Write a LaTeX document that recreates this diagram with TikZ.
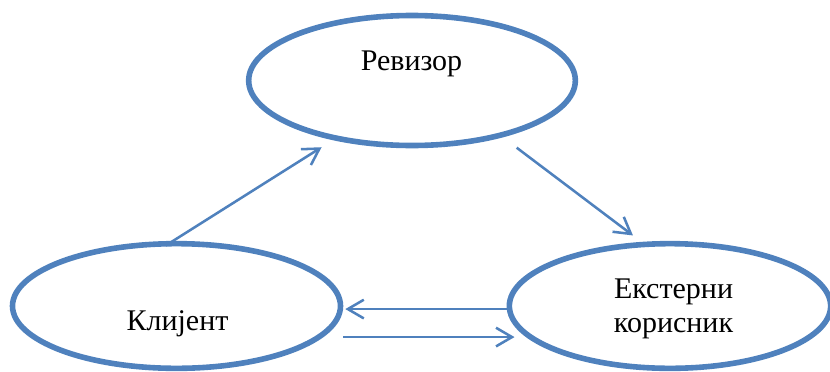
\documentclass[tikz,border=0pt]{standalone}
\usepackage{fontspec}
\setmainfont{Liberation Serif}
\usepackage{tikz}
\usetikzlibrary{arrows.meta}
\usetikzlibrary{shapes.geometric}
\definecolor{office}{HTML}{4F81BD}
\tikzset{oval/.style = {draw = office, ellipse, line width = 4.2pt, inner sep = 0}}
\tikzset{flow/.style = {draw = office, line width = 1.9pt, -{Straight Barb[length=12pt, width=14pt]}}}

\begin{document}
\begin{tikzpicture}[x=0.75pt, y=-0.75pt]
  \useasboundingbox (0, 0) rectangle (830, 371);
  \node [oval, minimum width = 245pt, minimum height = 97.5pt] (rev) at (412, 80.5) {};
  \node [oval, minimum width = 246pt, minimum height = 93.5pt] (kli) at (176.5, 306) {};
  \node [oval, minimum width = 241pt, minimum height = 93.5pt] (ext) at (670, 306) {};
  \begin{scope}[font = \fontsize{22.5}{25.5}\selectfont]
    \node [anchor = base] (revname) at (411.5, 70) {Ревизор};
    \node [anchor = base] (kliname) at (177.5, 330) {Клијент};
    \node [anchor = base, align = center] (extname) at (673.5, 332) {Екстерни\\корисник};
  \end{scope}
  % arrows between the three parties
  \draw [flow, shorten <= -6.5pt, shorten >= 10pt] (kli.93) -- (rev.217);
  \draw [flow, shorten <= 13pt, shorten >= 8pt] (rev.328) -- (ext.114);
  \draw [flow, transform canvas = {yshift = -2.3pt}, shorten >= 1.5pt] (ext.west) -- (kli.east);
  \draw [flow, transform canvas = {yshift = -23.3pt}, shorten >= -6pt] (kli.east) -- (ext.west);
\end{tikzpicture}
\end{document}
